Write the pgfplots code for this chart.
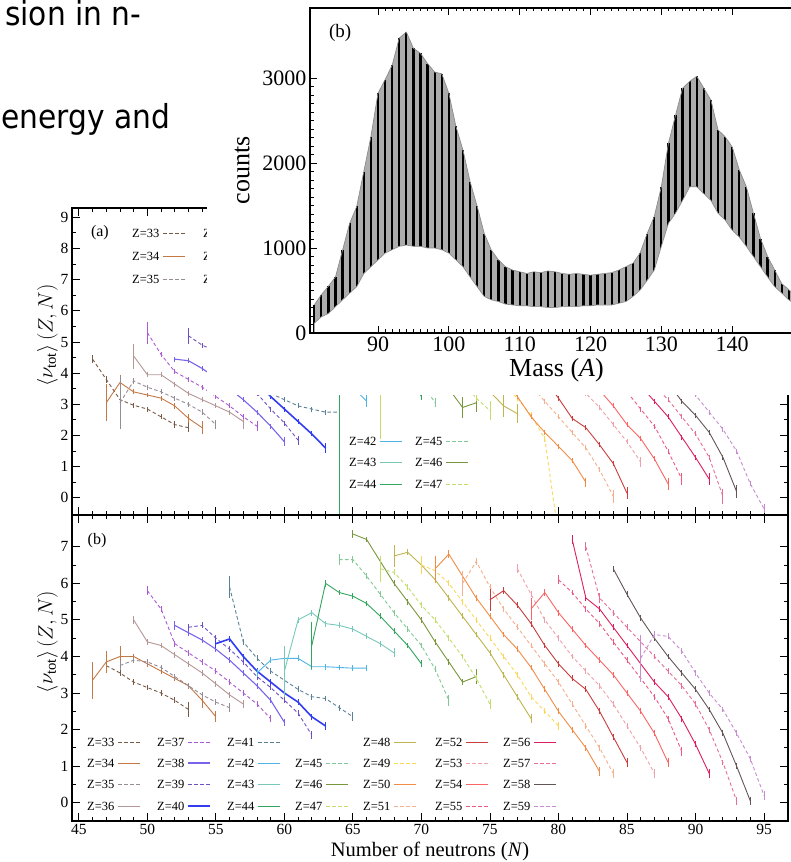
\documentclass[border=0pt]{standalone}
\usepackage{fontspec}
\setmainfont{Liberation Serif}
\newfontfamily\slidefont[FakeStretch=0.9]{DejaVu Sans}
\usepackage{pgfplots}
\usepackage{pgfplotstable}
\pgfplotsset{compat=1.18}
\definecolor{c33}{RGB}{120,90,70}
\definecolor{c34}{RGB}{195,120,70}
\definecolor{c35}{RGB}{150,140,150}
\definecolor{c36}{RGB}{180,150,150}
\definecolor{c37}{RGB}{170,90,210}
\definecolor{c38}{RGB}{120,100,235}
\definecolor{c39}{RGB}{110,80,190}
\definecolor{c40}{RGB}{50,60,240}
\definecolor{c41}{RGB}{90,130,150}
\definecolor{c42}{RGB}{80,180,230}
\definecolor{c43}{RGB}{120,200,185}
\definecolor{c44}{RGB}{50,165,95}
\definecolor{c45}{RGB}{130,200,150}
\definecolor{c46}{RGB}{120,150,60}
\definecolor{c47}{RGB}{195,220,110}
\definecolor{c48}{RGB}{190,180,80}
\definecolor{c49}{RGB}{250,215,90}
\definecolor{c50}{RGB}{240,140,70}
\definecolor{c51}{RGB}{245,175,140}
\definecolor{c52}{RGB}{200,60,60}
\definecolor{c53}{RGB}{240,160,170}
\definecolor{c54}{RGB}{250,100,100}
\definecolor{c55}{RGB}{235,90,130}
\definecolor{c56}{RGB}{220,30,90}
\definecolor{c57}{RGB}{230,110,150}
\definecolor{c58}{RGB}{100,85,85}
\definecolor{c59}{RGB}{200,140,210}
\tikzset{
 zs/.style={line width=0.9pt, solid},
 zd/.style={line width=0.9pt, dash pattern=on 3.5pt off 2.5pt},
 z33/.style={color=c33,zd}, z34/.style={color=c34,zs}, z35/.style={color=c35,zd}, z36/.style={color=c36,zs},
 z37/.style={color=c37,zd}, z38/.style={color=c38,zs,line width=1.1pt}, z39/.style={color=c39,zd}, z40/.style={color=c40,zs,line width=1.6pt},
 z41/.style={color=c41,zd}, z42/.style={color=c42,zs}, z43/.style={color=c43,zs}, z44/.style={color=c44,zs},
 z45/.style={color=c45,zd}, z46/.style={color=c46,zs}, z47/.style={color=c47,zd}, z48/.style={color=c48,zs},
 z49/.style={color=c49,zd}, z50/.style={color=c50,zs}, z51/.style={color=c51,zd}, z52/.style={color=c52,zs},
 z53/.style={color=c53,zd}, z54/.style={color=c54,zs}, z55/.style={color=c55,zd}, z56/.style={color=c56,zs},
 z57/.style={color=c57,zd}, z58/.style={color=c58,zs}, z59/.style={color=c59,zd},
}
\newcommand{\legitem}[4]{%
  \node[anchor=west, inner sep=0pt, font=\fontsize{12.5}{13}\selectfont] at (#1pt,#2pt) {#4};
  \draw[#3] (#1pt+31pt,#2pt) -- (#1pt+53pt,#2pt);}
\pgfplotsset{
 eb/.style={error bars/.cd, y dir=both, y explicit, error mark=none, error bar style={solid, line width=0.9pt}},
 lowax/.style={scale only axis, anchor=south west, width=716pt, xmin=44.5, xmax=96.75,
   axis line style={line width=1.6pt}, tick style={line width=0.9pt, black},
   major tick length=8pt, minor tick length=4pt, xtick={45,50,...,95}, minor x tick num=4,
   minor y tick num=1, tick label style={font=\fontsize{15.5}{17}\selectfont},
   /pgf/number format/assume math mode=true,
   ylabel={$\langle\nu_{\mathrm{tot}}\rangle\,(Z,N)$}, ylabel style={font=\fontsize{21}{22}\selectfont, yshift=-4pt, xshift=26pt}},
}
\pgfplotstableread{
A H L
81 330 115
82 450 190
83 550 230
84 660 310
85 975 390
86 1290 470
87 1490 545
88 1900 700
89 2310 780
90 2820 860
91 2980 940
92 3150 980
93 3470 1020
94 3540 1035
95 3350 1020
96 3290 1020
97 3170 1000
98 3070 1000
99 3050 980
100 2820 940
101 2430 860
102 2150 780
103 1780 660
104 1490 545
105 1170 430
106 975 390
107 860 370
108 780 340
109 740 330
110 720 320
111 700 320
112 720 310
113 710 310
114 730 300
115 720 300
116 700 310
117 690 310
118 700 310
119 690 320
120 680 320
121 690 330
122 700 330
123 710 330
124 740 350
125 780 370
126 820 430
127 940 505
128 1170 620
129 1370 740
130 1720 1020
131 2230 1290
132 2560 1410
133 2880 1560
134 2960 1720
135 3020 1720
136 2880 1640
137 2740 1560
138 2390 1410
139 2310 1330
140 2190 1210
141 1920 1130
142 1720 1020
143 1410 900
144 1110 780
145 900 660
146 740 545
147 580 470
148 510 390
149 420 330
150 350 280
}\massdata
\begin{document}
\begin{tikzpicture}
\useasboundingbox (0pt,0pt) rectangle (791pt,862pt);
\clip (0pt,0pt) rectangle (791pt,862pt);
% ---------- top panel (a)
\begin{axis}[lowax, at={(72pt,347pt)}, height=307pt, ymin=-0.55, ymax=9.3, ytick={0,...,9}, xticklabels={}]
\addplot[z33,eb] table[row sep=\\,y error=e]{N v e\\46 4.45 0.12\\47 3.8 0.12\\48 3.15 0.1\\49 2.97 0.08\\50 2.85 0.08\\51 2.6 0.08\\52 2.35 0.12\\53 2.25 0.15\\};
\addplot[z34,eb] table[row sep=\\,y error=e]{N v e\\47 3.05 0.6\\48 3.7 0.25\\49 3.4 0.08\\50 3.3 0.08\\51 3.2 0.08\\52 2.95 0.1\\53 2.55 0.15\\54 2.25 0.2\\};
\addplot[z35,eb] table[row sep=\\,y error=e]{N v e\\48 3.05 0.85\\49 3.75 0.1\\50 3.55 0.08\\51 3.4 0.08\\52 3.2 0.08\\53 3.0 0.08\\54 2.75 0.1\\55 2.35 0.15\\};
\addplot[z36,eb] table[row sep=\\,y error=e]{N v e\\49 4.55 0.4\\50 3.95 0.08\\51 3.95 0.08\\52 3.65 0.08\\53 3.35 0.08\\54 3.15 0.08\\55 2.95 0.08\\56 2.75 0.08\\57 2.45 0.25\\};
\addplot[z37,eb] table[row sep=\\,y error=e]{N v e\\50 5.3 0.35\\51 4.6 0.08\\52 4.05 0.08\\53 3.8 0.08\\54 3.55 0.08\\55 3.25 0.08\\56 2.95 0.08\\57 2.6 0.08\\58 2.3 0.15\\};
\addplot[z38,eb] table[row sep=\\,y error=e]{N v e\\52 4.45 0.08\\53 4.4 0.08\\54 4.15 0.08\\55 3.85 0.08\\56 3.5 0.08\\57 3.15 0.08\\58 2.75 0.08\\59 2.3 0.08\\60 1.8 0.15\\};
\addplot[z39,eb] table[row sep=\\,y error=e]{N v e\\53 5.2 0.25\\54 4.9 0.08\\55 4.7 0.08\\56 4.3 0.08\\57 3.8 0.08\\58 3.35 0.08\\59 2.85 0.08\\60 2.4 0.08\\61 1.85 0.15\\};
\addplot[z40,eb] table[row sep=\\,y error=e]{N v e\\55 4.9 0.1\\56 4.6 0.08\\57 4.2 0.08\\58 3.7 0.08\\59 3.25 0.08\\60 2.85 0.08\\61 2.45 0.08\\62 2.05 0.08\\63 1.6 0.15\\};
\addplot[z41,eb] table[row sep=\\,y error=e]{N v e\\56 5.0 0.2\\57 4.4 0.08\\58 3.8 0.08\\59 3.35 0.08\\60 3.15 0.08\\61 2.95 0.08\\62 2.85 0.08\\63 2.75 0.08\\64 2.75 0.1\\};
\addplot[z42,eb] table[row sep=\\,y error=e]{N v e\\58 3.9 0.1\\59 4.2 0.08\\60 4.2 0.08\\61 4.1 0.08\\62 3.9 0.08\\63 3.8 0.08\\64 3.7 0.08\\65 3.55 0.08\\66 3.1 0.2\\};
\addplot[z43,eb] table[row sep=\\,y error=e]{N v e\\60 4.4 0.5\\61 5.0 0.08\\62 5.2 0.08\\63 5.0 0.08\\64 4.8 0.08\\65 4.6 0.08\\66 4.4 0.08\\67 4.1 0.08\\68 3.8 0.1\\};
\addplot[z44,eb] table[row sep=\\,y error=e]{N v e\\62 4.5 0.5\\63 5.8 0.1\\64 4.0 4.6\\65 5.4 0.08\\66 5.1 0.08\\67 4.7 0.08\\68 4.3 0.08\\69 3.9 0.08\\70 3.25 0.12\\};
\addplot[z45,eb] table[row sep=\\,y error=e]{N v e\\64 6.4 0.15\\65 6.3 0.08\\66 5.8 0.08\\67 5.3 0.08\\68 4.8 0.08\\69 4.3 0.08\\70 3.7 0.08\\71 3.05 0.15\\};
\addplot[z46,eb] table[row sep=\\,y error=e]{N v e\\65 7.0 0.1\\66 6.8 0.08\\67 6.2 0.08\\68 5.6 0.08\\69 5.0 0.08\\70 4.5 0.08\\71 4.0 0.08\\72 3.5 0.08\\73 2.9 0.35\\74 3.05 0.3\\};
\addplot[z47,eb] table[row sep=\\,y error=e]{N v e\\67 3.5 1.6\\68 6.2 0.08\\69 5.7 0.08\\70 5.2 0.08\\71 4.7 0.08\\72 4.2 0.08\\73 3.7 0.08\\74 3.2 0.1\\75 2.8 0.3\\};
\addplot[z48,eb] table[row sep=\\,y error=e]{N v e\\68 6.7 0.3\\69 6.7 0.08\\70 6.3 0.08\\71 5.8 0.08\\72 5.2 0.08\\73 4.6 0.08\\74 4.0 0.08\\75 3.4 0.1\\76 2.95 0.35\\77 2.7 0.3\\};
\addplot[z49,eb] table[row sep=\\,y error=e]{N v e\\70 6.3 0.25\\71 6.1 0.08\\72 5.6 0.08\\73 5.0 0.08\\74 4.5 0.08\\75 4.0 0.08\\76 3.6 0.08\\77 3.2 0.08\\78 2.65 0.1\\79 1.9 0.1\\80 -1.2 0.1\\};
\addplot[z50,eb] table[row sep=\\,y error=e]{N v e\\71 6.3 0.35\\72 6.6 0.1\\73 6.0 0.08\\74 5.4 0.08\\75 4.7 0.08\\76 3.9 0.08\\77 3.25 0.08\\78 2.6 0.08\\79 2.1 0.08\\80 1.65 0.08\\81 1.2 0.08\\82 0.5 0.15\\};
\addplot[z51,eb] table[row sep=\\,y error=e]{N v e\\73 6.0 0.35\\74 6.4 0.1\\75 5.8 0.08\\76 5.0 0.08\\77 4.3 0.08\\78 3.6 0.08\\79 3.1 0.08\\80 2.6 0.08\\81 2.1 0.08\\82 1.6 0.08\\83 0.9 0.08\\84 0.05 0.2\\};
\addplot[z52,eb] table[row sep=\\,y error=e]{N v e\\75 5.5 0.3\\76 5.7 0.1\\77 5.1 0.08\\78 4.5 0.08\\79 3.8 0.08\\80 3.2 0.08\\81 2.55 0.08\\82 2.25 0.08\\83 1.7 0.08\\84 1.1 0.08\\85 0.15 0.2\\};
\addplot[z53,eb] table[row sep=\\,y error=e]{N v e\\77 6.2 0.1\\78 5.6 0.08\\79 5.0 0.08\\80 4.4 0.08\\81 3.9 0.08\\82 3.35 0.08\\83 2.9 0.08\\84 2.35 0.08\\85 1.8 0.08\\86 1.15 0.15\\};
\addplot[z54,eb] table[row sep=\\,y error=e]{N v e\\78 5.2 0.3\\79 5.6 0.1\\80 5.0 0.08\\81 4.4 0.08\\82 3.9 0.08\\83 3.45 0.08\\84 2.95 0.08\\85 2.35 0.08\\86 1.9 0.08\\87 1.25 0.08\\88 0.45 0.2\\};
\addplot[z55,eb] table[row sep=\\,y error=e]{N v e\\80 5.8 0.1\\81 5.4 0.08\\82 4.9 0.08\\83 4.4 0.08\\84 3.9 0.08\\85 3.4 0.08\\86 2.85 0.08\\87 2.3 0.08\\88 1.5 0.08\\89 0.6 0.2\\};
\addplot[z56,eb] table[row sep=\\,y error=e]{N v e\\81 7.0 0.1\\82 5.5 0.08\\83 5.1 0.08\\84 4.6 0.08\\85 4.1 0.08\\86 3.6 0.08\\87 3.1 0.08\\88 2.6 0.08\\89 1.95 0.08\\90 1.3 0.08\\91 0.6 0.2\\};
\addplot[z57,eb] table[row sep=\\,y error=e]{N v e\\82 6.8 0.1\\83 5.4 0.08\\84 5.0 0.08\\85 4.6 0.08\\86 4.1 0.08\\87 3.6 0.08\\88 3.15 0.08\\89 2.6 0.08\\90 2.05 0.08\\91 1.3 0.08\\92 0.05 0.25\\};
\addplot[z58,eb] table[row sep=\\,y error=e]{N v e\\84 6.2 0.1\\85 5.5 0.08\\86 4.9 0.08\\87 4.3 0.08\\88 3.7 0.08\\89 3.1 0.08\\90 2.65 0.08\\91 2.1 0.08\\92 1.3 0.08\\93 0.2 0.2\\};
\addplot[z59,eb] table[row sep=\\,y error=e]{N v e\\86 4.1 0.3\\87 4.3 0.08\\88 4.2 0.08\\89 3.8 0.08\\90 3.3 0.08\\91 2.75 0.08\\92 2.2 0.08\\93 1.5 0.08\\94 0.45 0.08\\95 -0.35 0.15\\};
\node[font=\fontsize{16}{18}\selectfont] at (rel axis cs:0.039,0.92) {(a)};
\end{axis}
% ---------- bottom panel (b)
\begin{axis}[lowax, at={(72pt,41pt)}, height=306pt, ymin=-0.5, ymax=7.87, ytick={0,...,7},
  xlabel={Number of neutrons (\textit{N})}, xlabel style={font=\fontsize{20.5}{22}\selectfont}]
\addplot[z33,eb] table[row sep=\\,y error=e]{N v e\\47 3.75 0.12\\48 3.55 0.08\\49 3.3 0.08\\50 3.15 0.08\\51 3.0 0.08\\52 2.8 0.08\\53 2.55 0.2\\};
\addplot[z34,eb] table[row sep=\\,y error=e]{N v e\\46 3.35 0.5\\47 3.85 0.3\\48 4.0 0.3\\49 4.0 0.08\\50 3.8 0.08\\51 3.6 0.08\\52 3.4 0.08\\53 3.2 0.08\\54 2.8 0.2\\55 2.35 0.15\\};
\addplot[z35,eb] table[row sep=\\,y error=e]{N v e\\48 3.75 0.12\\49 3.9 0.08\\50 3.85 0.08\\51 3.7 0.08\\52 3.45 0.08\\53 3.2 0.08\\54 2.95 0.08\\55 2.75 0.08\\56 2.6 0.12\\};
\addplot[z36,eb] table[row sep=\\,y error=e]{N v e\\49 5.0 0.12\\50 4.4 0.08\\51 4.3 0.08\\52 4.05 0.08\\53 3.8 0.08\\54 3.55 0.08\\55 3.25 0.08\\56 2.95 0.08\\57 2.7 0.1\\};
\addplot[z37,eb] table[row sep=\\,y error=e]{N v e\\50 5.8 0.12\\51 5.3 0.08\\52 4.35 0.08\\53 4.1 0.08\\54 3.85 0.08\\55 3.6 0.08\\56 3.3 0.08\\57 3.0 0.08\\58 2.7 0.08\\59 2.3 0.1\\};
\addplot[z38,eb] table[row sep=\\,y error=e]{N v e\\52 4.85 0.12\\53 4.65 0.08\\54 4.45 0.08\\55 4.2 0.08\\56 3.9 0.08\\57 3.55 0.08\\58 3.2 0.08\\59 2.8 0.08\\60 2.2 0.1\\};
\addplot[z39,eb] table[row sep=\\,y error=e]{N v e\\53 4.8 0.1\\54 4.85 0.08\\55 4.5 0.08\\56 4.2 0.08\\57 3.85 0.08\\58 3.45 0.08\\59 3.15 0.08\\60 2.8 0.08\\61 2.45 0.08\\62 1.85 0.12\\};
\addplot[z40,eb] table[row sep=\\,y error=e]{N v e\\55 4.35 0.12\\56 4.48 0.08\\57 4.0 0.08\\58 3.6 0.08\\59 3.3 0.08\\60 3.0 0.08\\61 2.75 0.08\\62 2.35 0.08\\63 2.1 0.1\\};
\addplot[z41,eb] table[row sep=\\,y error=e]{N v e\\56 5.9 0.3\\57 4.4 0.08\\58 3.95 0.08\\59 3.6 0.08\\60 3.35 0.08\\61 3.1 0.08\\62 2.9 0.08\\63 2.85 0.08\\64 2.6 0.08\\65 2.35 0.12\\};
\addplot[z42,eb] table[row sep=\\,y error=e]{N v e\\58 3.55 0.12\\59 3.9 0.08\\60 3.95 0.08\\61 3.95 0.08\\62 3.72 0.08\\63 3.72 0.08\\64 3.7 0.08\\65 3.68 0.08\\66 3.68 0.08\\};
\addplot[z43,eb] table[row sep=\\,y error=e]{N v e\\60 3.6 0.7\\61 5.0 0.08\\62 5.2 0.08\\63 4.9 0.08\\64 4.85 0.08\\65 4.75 0.08\\66 4.55 0.08\\67 4.35 0.08\\68 4.1 0.12\\};
\addplot[z44,eb] table[row sep=\\,y error=e]{N v e\\62 4.3 0.65\\63 6.0 0.1\\64 5.75 0.08\\65 5.65 0.08\\66 5.45 0.08\\67 5.1 0.08\\68 4.7 0.08\\69 4.3 0.08\\70 3.8 0.1\\};
\addplot[z45,eb] table[row sep=\\,y error=e]{N v e\\64 6.65 0.15\\65 6.65 0.1\\66 6.2 0.08\\67 5.7 0.08\\68 5.2 0.08\\69 4.75 0.08\\70 4.3 0.08\\71 3.65 0.08\\72 2.8 0.15\\};
\addplot[z46,eb] table[row sep=\\,y error=e]{N v e\\65 7.35 0.1\\66 7.2 0.08\\67 6.6 0.08\\68 6.0 0.08\\69 5.5 0.08\\70 5.0 0.08\\71 4.4 0.08\\72 3.85 0.08\\73 3.3 0.08\\74 3.45 0.2\\};
\addplot[z47,eb] table[row sep=\\,y error=e]{N v e\\67 6.4 0.35\\68 6.3 0.08\\69 5.9 0.08\\70 5.4 0.08\\71 5.0 0.08\\72 4.5 0.08\\73 4.0 0.08\\74 3.4 0.08\\75 2.7 0.15\\};
\addplot[z48,eb] table[row sep=\\,y error=e]{N v e\\68 6.75 0.3\\69 6.85 0.08\\70 6.5 0.08\\71 6.1 0.08\\72 5.6 0.08\\73 5.1 0.08\\74 4.6 0.08\\75 4.1 0.08\\76 3.5 0.08\\77 2.9 0.08\\78 2.3 0.12\\};
\addplot[z49,eb] table[row sep=\\,y error=e]{N v e\\70 6.5 0.25\\71 6.35 0.08\\72 6.0 0.08\\73 5.5 0.08\\74 5.0 0.08\\75 4.5 0.08\\76 4.0 0.08\\77 3.5 0.08\\78 2.9 0.08\\79 2.5 0.08\\80 2.1 0.12\\};
\addplot[z50,eb] table[row sep=\\,y error=e]{N v e\\71 6.4 0.35\\72 6.8 0.1\\73 6.2 0.08\\74 5.6 0.08\\75 5.1 0.08\\76 4.6 0.08\\77 4.2 0.08\\78 3.7 0.08\\79 3.1 0.08\\80 2.5 0.08\\81 2.0 0.08\\82 1.5 0.08\\83 0.85 0.12\\};
\addplot[z51,eb] table[row sep=\\,y error=e]{N v e\\73 6.0 0.35\\74 6.6 0.1\\75 5.9 0.08\\76 5.3 0.08\\77 4.8 0.08\\78 4.3 0.08\\79 3.8 0.08\\80 3.3 0.08\\81 2.7 0.08\\82 2.1 0.08\\83 1.5 0.08\\84 0.8 0.12\\};
\addplot[z52,eb] table[row sep=\\,y error=e]{N v e\\75 5.55 0.3\\76 5.8 0.1\\77 5.4 0.08\\78 4.9 0.08\\79 4.3 0.08\\80 3.8 0.08\\81 3.4 0.08\\82 3.1 0.08\\83 2.5 0.08\\84 1.8 0.08\\85 1.1 0.12\\};
\addplot[z53,eb] table[row sep=\\,y error=e]{N v e\\77 6.4 0.12\\78 5.7 0.08\\79 5.0 0.08\\80 4.5 0.08\\81 4.0 0.08\\82 3.6 0.08\\83 3.2 0.08\\84 2.7 0.08\\85 2.1 0.08\\86 1.5 0.08\\87 0.8 0.12\\};
\addplot[z54,eb] table[row sep=\\,y error=e]{N v e\\78 5.3 0.3\\79 5.75 0.1\\80 5.2 0.08\\81 4.75 0.08\\82 4.3 0.08\\83 3.9 0.08\\84 3.5 0.08\\85 3.0 0.08\\86 2.5 0.08\\87 1.9 0.08\\88 1.1 0.12\\};
\addplot[z55,eb] table[row sep=\\,y error=e]{N v e\\80 6.1 0.12\\81 5.75 0.08\\82 5.3 0.08\\83 4.9 0.08\\84 4.4 0.08\\85 3.9 0.08\\86 3.4 0.08\\87 2.9 0.08\\88 2.3 0.08\\89 1.4 0.12\\};
\addplot[z56,eb] table[row sep=\\,y error=e]{N v e\\81 7.2 0.12\\82 5.6 0.08\\83 5.3 0.08\\84 4.8 0.08\\85 4.3 0.08\\86 3.8 0.08\\87 3.3 0.08\\88 2.9 0.08\\89 2.3 0.08\\90 1.6 0.08\\91 0.8 0.12\\};
\addplot[z57,eb] table[row sep=\\,y error=e]{N v e\\82 7.0 0.12\\83 5.6 0.15\\84 5.2 0.08\\85 4.8 0.08\\86 4.4 0.08\\87 4.0 0.08\\88 3.6 0.08\\89 3.2 0.08\\90 2.7 0.08\\91 2.0 0.08\\92 1.1 0.08\\93 0.05 0.12\\};
\addplot[z58,eb] table[row sep=\\,y error=e]{N v e\\84 6.4 0.08\\85 5.7 0.08\\86 5.05 0.08\\87 4.5 0.08\\88 4.0 0.08\\89 3.55 0.08\\90 3.1 0.08\\91 2.55 0.08\\92 1.9 0.08\\93 1.0 0.08\\94 0.05 0.12\\};
\addplot[z59,eb] table[row sep=\\,y error=e]{N v e\\86 3.95 0.65\\87 4.6 0.1\\88 4.55 0.08\\89 4.15 0.08\\90 3.55 0.08\\91 3.0 0.08\\92 2.55 0.08\\93 1.9 0.08\\94 1.2 0.08\\95 0.2 0.12\\};
\node[font=\fontsize{16}{18}\selectfont] at (rel axis cs:0.035,0.915) {(b)};
\end{axis}
% ---------- legends (drawn as key graphics)
\legitem{87}{120}{z33}{Z=33}\legitem{157}{120}{z37}{Z=37}\legitem{227}{120}{z41}{Z=41}
\legitem{363}{120}{z48}{Z=48}\legitem{435}{120}{z52}{Z=52}\legitem{503}{120}{z56}{Z=56}
\legitem{87}{99}{z34}{Z=34}\legitem{157}{99}{z38}{Z=38}\legitem{227}{99}{z42}{Z=42}\legitem{295}{99}{z45}{Z=45}
\legitem{363}{99}{z49}{Z=49}\legitem{435}{99}{z53}{Z=53}\legitem{503}{99}{z57}{Z=57}
\legitem{87}{78}{z35}{Z=35}\legitem{157}{78}{z39}{Z=39}\legitem{227}{78}{z43}{Z=43}\legitem{295}{78}{z46}{Z=46}
\legitem{363}{78}{z50}{Z=50}\legitem{435}{78}{z54}{Z=54}\legitem{503}{78}{z58}{Z=58}
\legitem{87}{56}{z36}{Z=36}\legitem{157}{56}{z40}{Z=40}\legitem{227}{56}{z44}{Z=44}\legitem{295}{56}{z47}{Z=47}
\legitem{363}{56}{z51}{Z=51}\legitem{435}{56}{z55}{Z=55}\legitem{503}{56}{z59}{Z=59}
\legitem{132}{629}{z33}{Z=33}\legitem{203}{629}{z36}{Z=36}
\legitem{132}{606}{z34}{Z=34}\legitem{203}{606}{z37}{Z=37}
\legitem{132}{583}{z35}{Z=35}\legitem{203}{583}{z38}{Z=38}
\legitem{349}{421}{z42}{Z=42}\legitem{415}{421}{z45}{Z=45}
\legitem{349}{400}{z43}{Z=43}\legitem{415}{400}{z46}{Z=46}
\legitem{349}{378}{z44}{Z=44}\legitem{415}{378}{z47}{Z=47}
% ---------- inset (mass distribution)
\fill[white] (207pt,467pt) rectangle (791pt,862pt);
\begin{axis}[at={(310pt,529pt)}, anchor=south west, scale only axis, width=493pt, height=325pt,
  xmin=80.4, xmax=150, ymin=0, ymax=3824, xtick={90,100,...,140}, minor x tick num=9,
  ytick={0,1000,2000,3000}, minor y tick num=9, axis on top,
  axis line style={line width=1.3pt}, tick style={black, line width=0.8pt},
  major tick length=7pt, minor tick length=3.5pt,
  tick label style={font=\fontsize{22}{24}\selectfont},
  /pgf/number format/assume math mode=true, /pgf/number format/1000 sep={},
  scaled y ticks=false,
  xlabel={Mass (\textit{A})}, ylabel={counts}, label style={font=\fontsize{26}{28}\selectfont},
  ylabel style={yshift=6pt}]
\addplot[fill=gray!65, draw=none] table[x=A,y=H]{\massdata} \closedcycle;
\addplot[ycomb, black, line width=2.2pt] table[x=A,y=H]{\massdata};
\addplot[fill=white, draw=none] table[x=A,y=L]{\massdata} \closedcycle;
\addplot[gray!90, line width=0.7pt] table[x=A,y=H]{\massdata};
\addplot[gray!90, line width=0.7pt] table[x=A,y=L]{\massdata};
\node[font=\fontsize{19}{21}\selectfont] at (rel axis cs:0.061,0.923) {(b)};
\end{axis}
% ---------- slide text
\node[anchor=base west, inner sep=0pt, font=\slidefont\fontsize{33}{40}\selectfont] at (5pt,836pt) {sion in n-};
\node[anchor=base west, inner sep=0pt, font=\slidefont\fontsize{33}{40}\selectfont] at (1pt,733pt) {energy and};
\end{tikzpicture}
\end{document}
